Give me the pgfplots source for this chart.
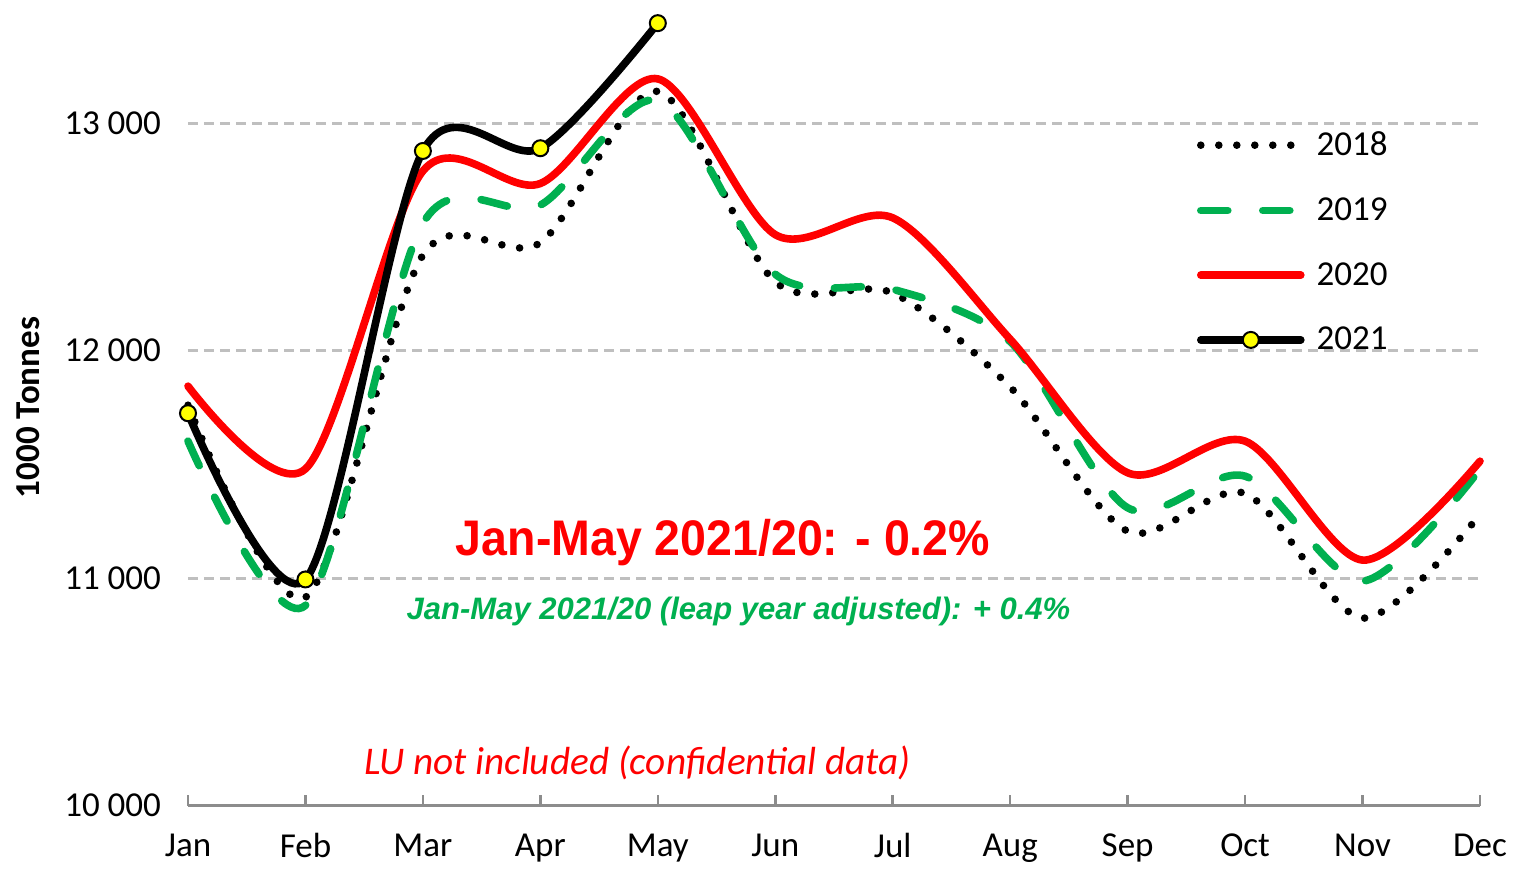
\documentclass[border=0pt]{standalone}
\usepackage{pgfplots}
\pgfplotsset{compat=1.18}
\usepackage{fontspec}
\usepackage{graphicx}
\setmainfont{Carlito}
\newfontfamily\arialfont{Liberation Sans}
\definecolor{xlgreen}{RGB}{0,176,80}
\definecolor{xlred}{RGB}{255,0,0}
\definecolor{gridgray}{RGB}{191,191,191}
\definecolor{axgray}{RGB}{140,140,140}
\definecolor{mkyellow}{RGB}{255,255,0}
\begin{document}
\begin{tikzpicture}
\path[use as bounding box] (-94pt,-31.25pt) rectangle (663pt,402.75pt);
\begin{axis}[
 at={(0,0)}, anchor=south west,
 scale only axis, width=646pt, height=398pt,
 xmin=0, xmax=11, ymin=10000, ymax=13500,
 xtick={0,...,11},
 xticklabels={Jan,Feb,Mar,Apr,May,Jun,Jul,Aug,Sep,Oct,Nov,Dec},
 ytick={10000,11000,12000,13000},
 yticklabels={10 000,11 000,12 000,13 000},
 axis x line*=bottom, axis y line*=left,
 x axis line style={draw=axgray, line width=1.25pt, -},
 y axis line style={draw=none},
 ytick style={draw=none},
 xtick style={draw=axgray, line width=1.25pt},
 tick align=inside, major tick length=5.5pt,
 ymajorgrids, grid style={draw=gridgray, line width=1.5pt, dash pattern=on 5pt off 3pt},
 tick label style={font=\fontsize{17.5}{21}\selectfont, text=black},
 yticklabel style={xshift=-10pt},
 xticklabel style={yshift=-10.5pt},
 ylabel={1000 Tonnes},
 every axis y label/.style={at={(axis description cs:-0.1238,0.5)}, rotate=90, anchor=center, font=\fontsize{17.5}{20}\selectfont\bfseries},
 legend style={draw=none, fill=none, at={(rel axis cs:0.776,0.857)}, anchor=north west, font=\fontsize{17.5}{21}\selectfont, row sep=15.5pt, /tikz/every odd column/.append style={column sep=4pt}},
 legend cell align=left,
 legend image code/.code={\draw[mark repeat=2, mark phase=2, #1] plot coordinates {(0pt,0pt) (25pt,0pt) (50pt,0pt)};},
 clip=false,
]
\addplot[black, line width=3.8pt, line cap=round, dash pattern=on 0pt off 9pt, smooth, tension=0.5] coordinates {
(0,11760)(1,10915)(2,12420)(3,12475)(4,13140)(5,12302)(6,12253)(7,11840)(8,11206)(9,11372)(10,10824)(11,11280)};
\addlegendentry{2018}
\addplot[xlgreen, line width=3.8pt, line cap=round, dash pattern=on 13.5pt off 17.5pt, smooth, tension=0.5] coordinates {
(0,11602)(1,10880)(2,12560)(3,12640)(4,13100)(5,12336)(6,12270)(7,12040)(8,11309)(9,11448)(10,10987)(11,11479)};
\addlegendentry{2019}
\addplot[xlred, line width=3.8pt, line cap=round, smooth, tension=0.5] coordinates {
(0,11844)(1,11480)(2,12790)(3,12735)(4,13195)(5,12510)(6,12584)(7,12050)(8,11463)(9,11602)(10,11079)(11,11514)};
\addlegendentry{2020}
\addplot[black, line width=3.8pt, line cap=round, smooth, tension=0.5, mark=*, mark size=4pt, mark options={solid, fill=mkyellow, draw=black, line width=1pt}] coordinates {
(0,11725)(1,10994)(2,12878)(3,12890)(4,13440)};
\addlegendentry{2021}
\node[text=xlred, font=\arialfont\bfseries\fontsize{25}{30}\selectfont] at (axis cs:4.555,11158) {\scalebox{0.93}[1]{Jan-May 2021/20: - 0.2\%}};
\node[text=xlgreen, font=\arialfont\bfseries\itshape\fontsize{15.5}{18}\selectfont] at (axis cs:4.687,10852) {Jan-May 2021/20 (leap year adjusted): + 0.4\%};
\node[text=xlred, font=\itshape\fontsize{19.6}{22}\selectfont] at (axis cs:3.827,10187) {LU not included (confidential data)};
\end{axis}
\end{tikzpicture}
\end{document}
